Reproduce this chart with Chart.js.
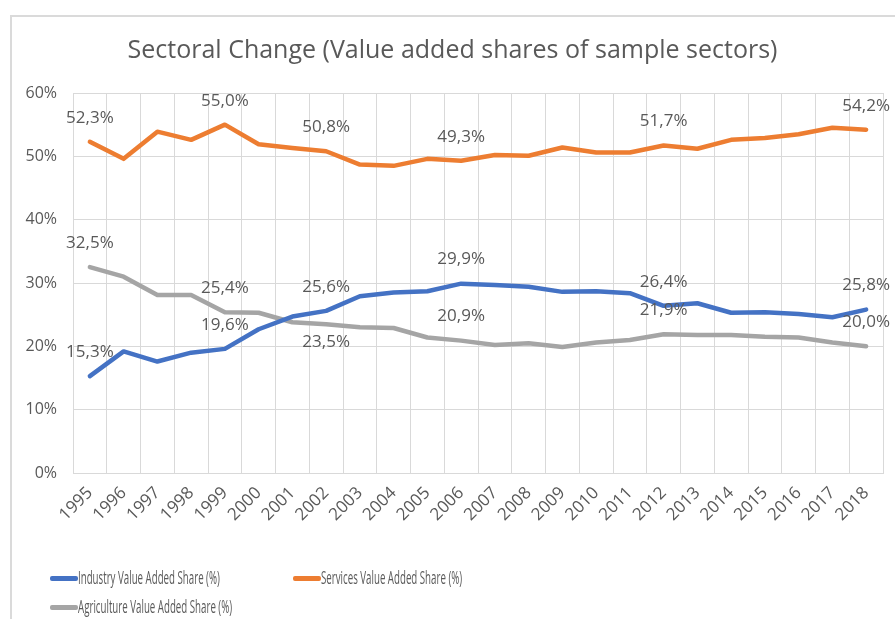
<!DOCTYPE html>
<html lang="en">
<head>
    <meta charset="UTF-8">
    <title>Sectoral Change</title>
    <script src="https://cdn.jsdelivr.net/npm/chart.js"></script>
    <style>
        html, body { margin: 0; padding: 0; background: #fff; overflow: hidden; }
        #wrap { position: relative; width: 895px; height: 619px; overflow: hidden; }
        #frame { position: absolute; left: 10px; top: 15px; width: 950px; height: 700px;
                 border: 2px solid #dadada; box-sizing: border-box; }
        #chart { position: absolute; left: 0; top: 0; }
        .leg { position: absolute; height: 20px; font-family: "Open Sans", sans-serif;
               font-size: 19px; color: #595959; white-space: nowrap; }
        .leg .sw { position: absolute; left: 0; top: 8px; width: 28px; height: 5px; border-radius: 2px; }
        .leg .tx { position: absolute; left: 28px; top: -4px; transform-origin: left center; }
    </style>
</head>
<body>
<div id="wrap">
    <div id="frame"></div>
    <canvas id="chart" width="895" height="619"></canvas>
</div>
<script>
// data
const years = ['1995', '1996', '1997', '1998', '1999', '2000', '2001', '2002', '2003', '2004', '2005', '2006',
               '2007', '2008', '2009', '2010', '2011', '2012', '2013', '2014', '2015', '2016', '2017', '2018'];
const industry = [15.3, 19.2, 17.6, 19.0, 19.6, 22.7, 24.7, 25.6, 27.9, 28.5, 28.7, 29.9,
                  29.7, 29.4, 28.6, 28.7, 28.4, 26.4, 26.8, 25.3, 25.4, 25.1, 24.6, 25.8];
const services = [52.3, 49.6, 53.9, 52.6, 55.0, 51.9, 51.3, 50.8, 48.7, 48.5, 49.6, 49.3,
                  50.2, 50.1, 51.4, 50.6, 50.6, 51.7, 51.2, 52.6, 52.9, 53.5, 54.5, 54.2];
const agriculture = [32.5, 31.0, 28.1, 28.1, 25.4, 25.3, 23.8, 23.5, 23.0, 22.9, 21.4, 20.9,
                     20.2, 20.5, 19.9, 20.6, 21.0, 21.9, 21.8, 21.8, 21.5, 21.4, 20.6, 20.0];
const seriesNames = ['Industry Value Added Share (%)', 'Services Value Added Share (%)', 'Agriculture Value Added Share (%)'];
const yTicks = [0, 10, 20, 30, 40, 50, 60];
const labelled = [0, 4, 7, 11, 17, 23];   // points that carry a value label

const colors = ['#4472C4', '#ED7D31', '#A5A5A5'];
const textColor = '#595959';
const font = '"Open Sans", sans-serif';

// which labels sit under their point instead of above
const below = { 2: [7] };

const valueLabels = {
    id: 'valueLabels',
    afterDatasetsDraw(chart) {
        const ctx = chart.ctx;
        ctx.save();
        ctx.font = '17px ' + font;
        ctx.fillStyle = textColor;
        ctx.textAlign = 'center';
        ctx.textBaseline = 'middle';
        chart.data.datasets.forEach((ds, di) => {
            const meta = chart.getDatasetMeta(di);
            labelled.forEach(i => {
                const pt = meta.data[i];
                const under = (below[di] || []).includes(i);
                const txt = ds.data[i].toFixed(1).replace('.', ',') + '%';
                ctx.fillText(txt, pt.x, pt.y + (under ? 18 : -24));
            });
        });
        ctx.restore();
    }
};

const ctx = document.getElementById('chart').getContext('2d');
const chart = new Chart(ctx, {
    type: 'line',
    data: {
        labels: years,
        datasets: [industry, services, agriculture].map((d, i) => ({
            label: seriesNames[i],
            data: d,
            borderColor: colors[i],
            backgroundColor: colors[i],
            borderWidth: 4.5,
            pointRadius: 0,
            tension: 0,
            borderJoinStyle: 'round',
            borderCapStyle: 'round'
        }))
    },
    options: {
        responsive: false,
        animation: false,
        layout: { padding: { left: 22, right: 12, top: 0, bottom: 86 } },
        plugins: {
            legend: { display: false },
            tooltip: { enabled: false },
            title: {
                display: true,
                text: 'Sectoral Change (Value added shares of sample sectors)',
                color: textColor,
                font: { family: font, size: 25, weight: 'normal' },
                padding: { top: 36, bottom: 27 }
            }
        },
        scales: {
            x: {
                offset: true,
                grid: { color: '#d9d9d9', offset: true, drawTicks: false },
                border: { color: '#d9d9d9' },
                ticks: {
                    color: textColor, font: { family: font, size: 17 },
                    minRotation: 45, maxRotation: 45, padding: 10, autoSkip: false
                },
                afterFit(s) { s.height = 60; }
            },
            y: {
                min: 0, max: 60,
                afterBuildTicks(s) { s.ticks = yTicks.map(v => ({ value: v })); },
                grid: { color: '#d9d9d9', drawTicks: false },
                border: { display: false },
                ticks: {
                    color: textColor, font: { family: font, size: 16 }, padding: 16,
                    callback: v => v + '%'
                },
                afterFit(s) { s.width = 51; }
            }
        }
    },
    plugins: [valueLabels]
});

// legend laid out like the original, text squeezed to its narrow width
const legPos = [[50, 568], [293, 568], [50, 597]];
const meas = document.createElement('canvas').getContext('2d');
meas.font = '19px ' + font;
const squeeze = 142 / meas.measureText(seriesNames[0]).width;
seriesNames.forEach((name, i) => {
    const d = document.createElement('div');
    d.className = 'leg';
    d.style.left = legPos[i][0] + 'px';
    d.style.top = legPos[i][1] + 'px';
    d.innerHTML = '<div class="sw" style="background:' + colors[i] + '"></div>' +
                  '<div class="tx" style="transform:scaleX(' + squeeze.toFixed(3) + ')">' + name + '</div>';
    document.getElementById('wrap').appendChild(d);
});
</script>
</body>
</html>
